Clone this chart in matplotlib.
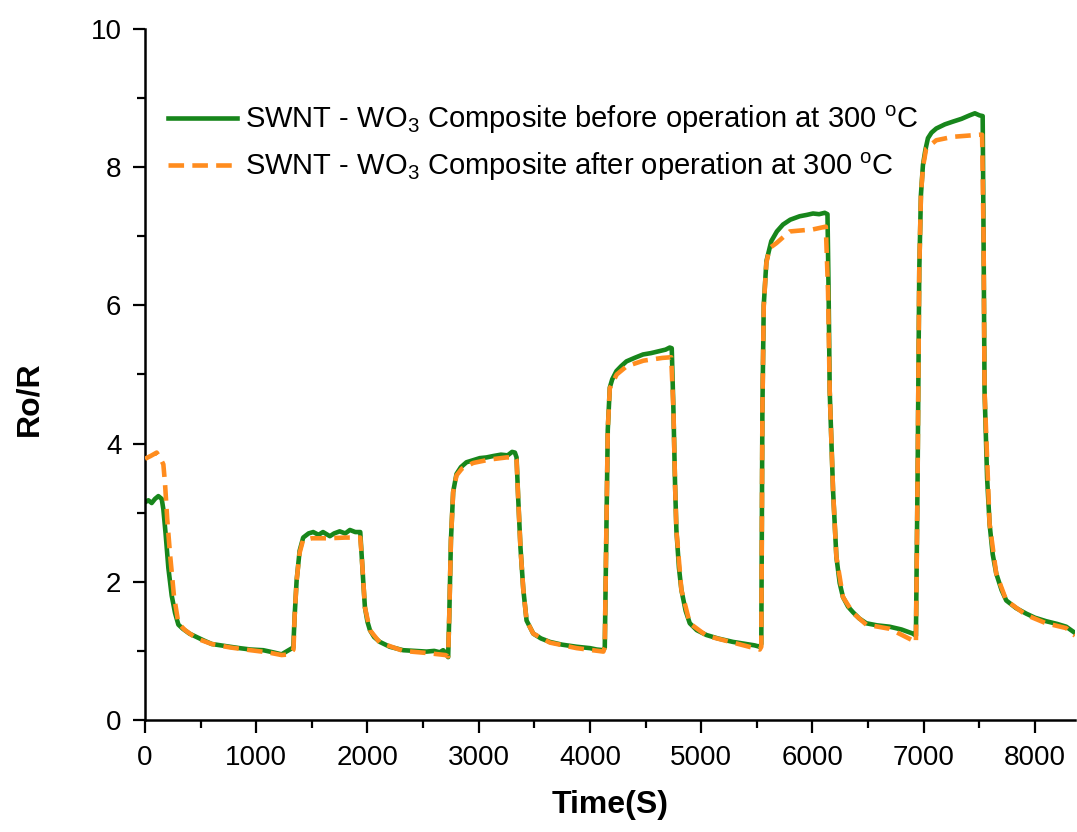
import matplotlib
matplotlib.use("Agg")
import matplotlib.pyplot as plt
from matplotlib.ticker import MultipleLocator

plt.rcParams['font.family'] = ['Liberation Sans', 'DejaVu Sans']
plt.rcParams['mathtext.fontset'] = 'custom'
plt.rcParams['mathtext.rm'] = 'Liberation Sans'
plt.rcParams['mathtext.it'] = 'Liberation Sans'
plt.rcParams['mathtext.bf'] = 'Liberation Sans:bold'
plt.rcParams['mathtext.default'] = 'regular'

# ---- data ----
before_time = [0, 30, 60, 90, 120, 150, 165, 185, 210, 240, 270, 300, 340, 400, 464, 530, 600, 680, 764, 850,
               950, 1063, 1150, 1228, 1270, 1300, 1333, 1345, 1363, 1390, 1422, 1470, 1512, 1560, 1600, 1662,
               1700, 1750, 1800, 1842, 1890, 1935, 1947, 1962, 1977, 2000, 2022, 2060, 2111, 2200, 2321, 2420,
               2531, 2600, 2650, 2680, 2710, 2725, 2735, 2750, 2770, 2800, 2840, 2890, 2950, 3010, 3070, 3130,
               3200, 3260, 3300, 3325, 3340, 3355, 3375, 3400, 3430, 3490, 3560, 3640, 3750, 3880, 4000, 4060,
               4120, 4133, 4145, 4160, 4178, 4200, 4238, 4280, 4328, 4400, 4477, 4550, 4627, 4680, 4717, 4735,
               4750, 4765, 4777, 4800, 4822, 4860, 4897, 4960, 5047, 5150, 5286, 5400, 5480, 5526, 5540, 5550,
               5562, 5586, 5630, 5680, 5735, 5800, 5885, 5950, 6005, 6060, 6110, 6135, 6145, 6155, 6185, 6215,
               6245, 6274, 6320, 6364, 6420, 6484, 6580, 6694, 6800, 6870, 6903, 6930, 6945, 6960, 6975, 6993,
               7015, 7038, 7070, 7113, 7190, 7263, 7340, 7412, 7460, 7502, 7530, 7538, 7547, 7570, 7592, 7620,
               7652, 7700, 7742, 7830, 7921, 8000, 8100, 8200, 8281, 8360]
before_ratio = [3.15, 3.18, 3.14, 3.20, 3.24, 3.20, 3.05, 2.70, 2.20, 1.80, 1.55, 1.38, 1.32, 1.25, 1.20, 1.15,
                1.10, 1.08, 1.06, 1.04, 1.02, 1.01, 0.98, 0.95, 0.99, 1.02, 1.05, 1.50, 2.02, 2.45, 2.64, 2.70,
                2.72, 2.68, 2.72, 2.66, 2.70, 2.73, 2.70, 2.75, 2.72, 2.72, 2.40, 2.00, 1.63, 1.42, 1.30, 1.20,
                1.13, 1.06, 1.01, 1.00, 0.99, 1.00, 0.98, 1.01, 0.96, 0.91, 1.50, 2.60, 3.30, 3.56, 3.66, 3.73,
                3.76, 3.79, 3.80, 3.82, 3.84, 3.83, 3.88, 3.87, 3.80, 3.20, 2.50, 1.90, 1.44, 1.25, 1.18, 1.13,
                1.09, 1.06, 1.04, 1.02, 1.01, 1.05, 2.50, 4.20, 4.81, 4.93, 5.05, 5.12, 5.19, 5.24, 5.29, 5.31,
                5.34, 5.36, 5.39, 5.38, 4.50, 3.40, 2.74, 2.20, 1.88, 1.58, 1.40, 1.30, 1.23, 1.18, 1.13, 1.10,
                1.08, 1.06, 1.10, 4.50, 6.00, 6.64, 6.93, 7.07, 7.17, 7.24, 7.29, 7.31, 7.33, 7.32, 7.34, 7.32,
                6.20, 4.76, 3.32, 2.36, 1.98, 1.78, 1.64, 1.56, 1.47, 1.40, 1.37, 1.35, 1.31, 1.27, 1.25, 1.22,
                3.50, 6.50, 7.60, 8.03, 8.25, 8.42, 8.50, 8.56, 8.62, 8.66, 8.70, 8.75, 8.78, 8.75, 8.74, 7.00,
                4.76, 3.50, 2.84, 2.40, 2.12, 1.88, 1.73, 1.62, 1.54, 1.48, 1.43, 1.39, 1.35, 1.26]

after_time = [0, 50, 105, 140, 165, 180, 200, 225, 260, 300, 360, 464, 600, 764, 950, 1100, 1228, 1300, 1335,
              1345, 1363, 1390, 1420, 1500, 1650, 1800, 1935, 1947, 1977, 2022, 2111, 2321, 2531, 2700, 2725,
              2735, 2750, 2770, 2800, 2850, 2950, 3100, 3250, 3330, 3340, 3355, 3375, 3400, 3430, 3490, 3640,
              3880, 4120, 4133, 4145, 4160, 4178, 4240, 4330, 4480, 4650, 4730, 4750, 4765, 4777, 4822, 4897,
              5047, 5286, 5526, 5540, 5550, 5562, 5586, 5615, 5675, 5795, 6005, 6120, 6140, 6155, 6185, 6215,
              6274, 6364, 6484, 6694, 6903, 6930, 6945, 6960, 6975, 6993, 7022, 7113, 7263, 7502, 7525, 7538,
              7547, 7592, 7652, 7742, 7921, 8100, 8281, 8360]
after_ratio = [3.78, 3.82, 3.87, 3.78, 3.70, 3.42, 2.90, 2.40, 1.80, 1.40, 1.30, 1.18, 1.10, 1.05, 1.01, 0.98,
               0.94, 0.95, 1.02, 1.50, 2.02, 2.42, 2.60, 2.63, 2.63, 2.64, 2.64, 2.40, 1.63, 1.30, 1.12, 1.00,
               0.97, 0.94, 0.92, 1.50, 2.60, 3.30, 3.54, 3.64, 3.72, 3.77, 3.80, 3.80, 3.76, 3.20, 2.50, 1.90,
               1.44, 1.25, 1.12, 1.04, 0.99, 1.05, 2.50, 4.20, 4.80, 5.00, 5.12, 5.20, 5.24, 5.25, 4.50, 3.40,
               2.74, 1.88, 1.40, 1.22, 1.12, 1.02, 1.06, 4.50, 6.00, 6.62, 6.83, 6.90, 7.07, 7.10, 7.14, 6.20,
               4.76, 3.32, 2.36, 1.78, 1.55, 1.38, 1.32, 1.15, 1.12, 3.50, 6.50, 7.60, 8.00, 8.27, 8.39, 8.44,
               8.47, 8.47, 7.00, 4.76, 2.84, 2.12, 1.73, 1.52, 1.40, 1.33, 1.22]

label_before = 'SWNT - WO$_3$ Composite before operation at 300 $^{o}$C'
label_after = 'SWNT - WO$_3$ Composite after operation at 300 $^{o}$C'
x_label = 'Time(S)'
y_label = 'Ro/R'

green = '#17861B'
orange = '#FF8C1E'

fig = plt.figure(figsize=(10.77, 8.32), dpi=100)
ax = fig.add_axes([145/1077, 112/832, 930/1077, 691/832])

ax.plot(before_time, before_ratio, color=green, lw=3.3, label=label_before, zorder=2)
ax.plot(after_time, after_ratio, color=orange, lw=3.3, dashes=(3.4, 1.8), label=label_after, zorder=3)

ax.set_xlim(0, 8360)
ax.set_ylim(0, 10)
ax.xaxis.set_major_locator(MultipleLocator(1000))
ax.xaxis.set_minor_locator(MultipleLocator(500))
ax.yaxis.set_major_locator(MultipleLocator(2))
ax.yaxis.set_minor_locator(MultipleLocator(1))

for s in ['top', 'right']:
    ax.spines[s].set_visible(False)
for s in ['left', 'bottom']:
    ax.spines[s].set_linewidth(1.8)

ax.tick_params(which='major', direction='out', length=9, width=1.6, labelsize=20)
ax.tick_params(which='minor', direction='out', length=5.5, width=1.6)
ax.tick_params(axis='x', which='major', pad=9)
ax.tick_params(axis='y', which='major', pad=8)

ax.set_xlabel(x_label, fontsize=23, fontweight='bold', labelpad=14)
ax.set_ylabel(y_label, fontsize=23, fontweight='bold')
ax.yaxis.set_label_coords(-0.108, 0.465)

leg = ax.legend(loc='upper left', bbox_to_anchor=(168/1077, 1 - 104/832), bbox_transform=fig.transFigure,
                frameon=False, fontsize=21, handlelength=2.37, handletextpad=0.27, labelspacing=0.5,
                borderpad=0, borderaxespad=0)

fig.savefig('out.png', dpi=100)
